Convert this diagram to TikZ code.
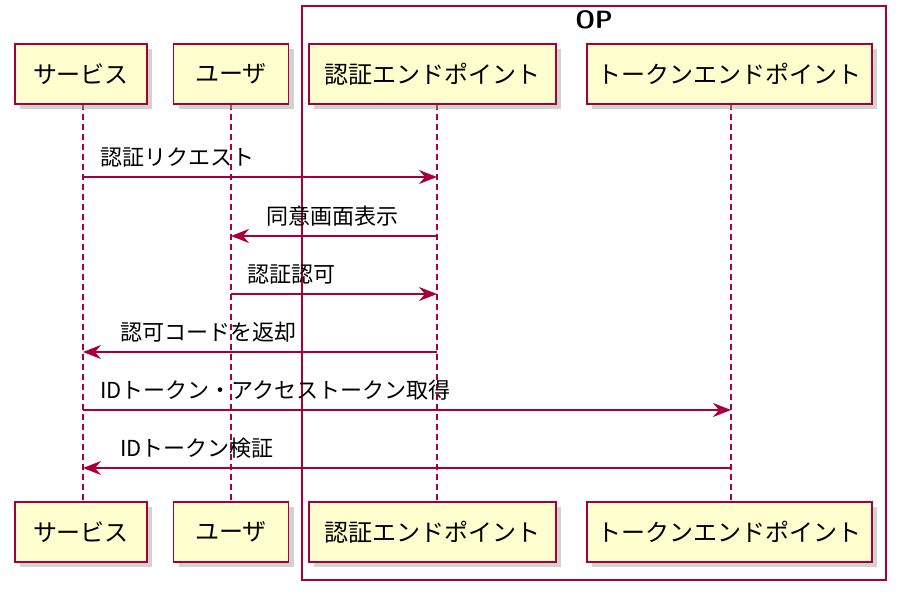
\documentclass[tikz,border=0pt]{standalone}
\usepackage{fontspec}
\setmainfont{Noto Sans CJK JP}
\usetikzlibrary{arrows.meta,shadows}
\definecolor{pu}{HTML}{A80036}
\definecolor{pf}{HTML}{FEFECE}
\begin{document}
\begin{tikzpicture}[x=1pt,y=-1pt,
 part/.style={draw=pu,fill=pf,line width=1.8pt,minimum height=60pt,inner xsep=8pt,font=\fontsize{24}{28}\selectfont,drop shadow={shadow xshift=5pt,shadow yshift=-5pt,fill=black!35}},
 life/.style={draw=pu,dash pattern=on 6pt off 4pt,line width=1.3pt},
 msg/.style={draw=pu,line width=1.6pt,-{Stealth[length=18pt,width=14pt,inset=6pt]}},
 lbl/.style={anchor=base west,inner sep=0pt,font=\fontsize{22}{26}\selectfont}]
\useasboundingbox (0,0) rectangle (906,598);
\draw[pu,line width=1.6pt] (302,6) rectangle (886,580);
\node[font=\bfseries\sffamily\fontsize{25}{28}\selectfont] (op) at (594,20) {OP};
\foreach \n/\x/\bx/\w/\t in {s/83/81/132/サービス,u/231/231/115/ユーザ,a/437/432.5/247/認証エンドポイント,t/731/729.5/285/トークンエンドポイント}{
 \coordinate (\n1) at (\x,104); \coordinate (\n2) at (\x,503);
 \draw[life] (\n1) -- (\n2);
 \node[part,minimum width=\w pt] (\n top) at (\bx,74) {\t};
 \node[part,minimum width=\w pt] (\n bot) at (\bx,532) {\t};
}
\foreach \n in {s,u,a,t}{\foreach \y in {177,236,294,352,410,468}{\coordinate (\n\y) at (\n1 |- 0,\y);}}
\draw[msg] (s177) -- (a177); \node[lbl] (l1) at (100,165) {認証リクエスト};
\draw[msg] (a236) -- (u236); \node[lbl] (l2) at (266,224) {同意画面表示};
\draw[msg] (u294) -- (a294); \node[lbl] (l3) at (247,282) {認証認可};
\draw[msg] (a352) -- (s352); \node[lbl] (l4) at (120,340) {認可コードを返却};
\draw[msg] (s410) -- (t410); \node[lbl] (l5) at (100,398) {IDトークン・アクセストークン取得};
\draw[msg] (t468) -- (s468); \node[lbl] (l6) at (120,456) {IDトークン検証};
\end{tikzpicture}
\end{document}
